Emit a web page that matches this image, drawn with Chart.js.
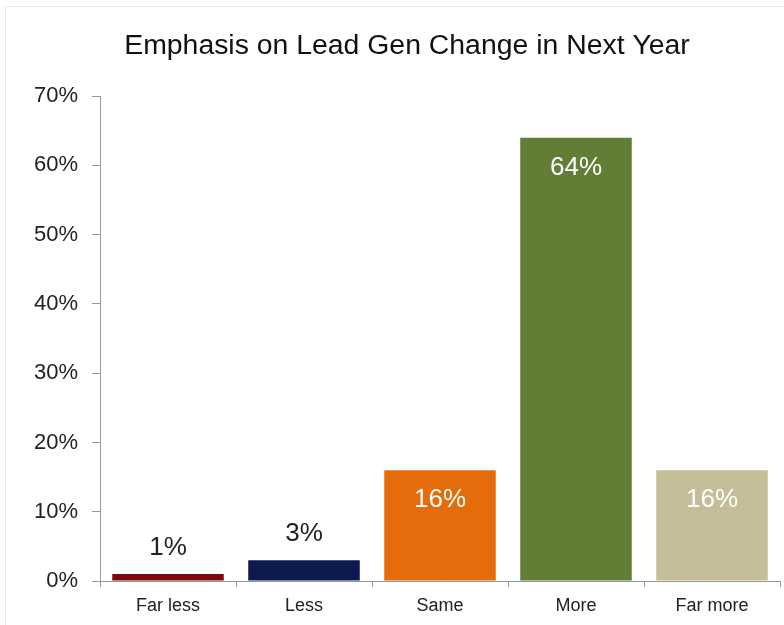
<!DOCTYPE html>
<html>
<head>
<meta charset="utf-8">
<script src="https://cdn.jsdelivr.net/npm/chart.js@4"></script>
<style>
  html, body { margin: 0; padding: 0; background: #fff; }
  #wrap { position: relative; width: 784px; height: 625px; }
  #frame { position: absolute; left: 5px; top: 6px; width: 800px; height: 700px; border: 1px solid #ece8dc; }
  canvas { position: absolute; left: 0; top: 0; }
</style>
</head>
<body>
<div id="wrap">
  <div id="frame"></div>
  <canvas id="leadGenChart" width="784" height="625"></canvas>
</div>
<script>
const categories = ['Far less', 'Less', 'Same', 'More', 'Far more'];
const values = [1, 3, 16, 64, 16];
const barColors = ['#7d0a0a', '#0c1a4f', '#e46c0a', '#617d36', '#c4bd97'];
const yTicks = [0, 10, 20, 30, 40, 50, 60, 70];

const fontFamily = '"Liberation Sans", Arial, sans-serif';

// labels on the bars: small ones above, big ones inside in white
const barLabels = {
    id: 'barLabels',
    afterDatasetsDraw(chart) {
        const c = chart.ctx;
        const meta = chart.getDatasetMeta(0);
        c.save();
        c.font = '26px ' + fontFamily;
        c.textAlign = 'center';
        c.textBaseline = 'middle';
        meta.data.forEach((bar, i) => {
            const v = values[i];
            if (v < 10) {
                c.fillStyle = '#222';
                c.fillText(v + '%', bar.x, bar.y - 26);
            } else {
                c.fillStyle = '#fff';
                c.fillText(v + '%', bar.x, bar.y + 30);
            }
        });
        c.restore();
    }
};

const ctx = document.getElementById('leadGenChart').getContext('2d');

new Chart(ctx, {
    type: 'bar',
    data: {
        labels: categories,
        datasets: [{
            data: values,
            backgroundColor: barColors,
            borderWidth: 0,
            barPercentage: 0.82,
            categoryPercentage: 1.0
        }]
    },
    options: {
        responsive: false,
        animation: false,
        layout: { padding: { left: 34, right: 4, top: 0, bottom: 0 } },
        plugins: {
            legend: { display: false },
            tooltip: { enabled: false },
            title: {
                display: true,
                text: 'Emphasis on Lead Gen Change in Next Year',
                color: '#111',
                font: { family: fontFamily, size: 28.4, weight: 'normal' },
                padding: { top: 29, bottom: 33 }
            }
        },
        scales: {
            x: {
                grid: { display: true, drawOnChartArea: false, tickLength: 6, color: '#999' },
                border: { color: '#999' },
                ticks: { color: '#222', padding: 8, font: { family: fontFamily, size: 18 } },
                afterFit(scale) { scale.height = 44; }
            },
            y: {
                min: 0,
                max: 70,
                afterBuildTicks(scale) { scale.ticks = yTicks.map(v => ({ value: v })); },
                grid: { display: true, drawOnChartArea: false, tickLength: 8, color: '#999' },
                border: { color: '#999' },
                ticks: {
                    color: '#222',
                    padding: 14,
                    font: { family: fontFamily, size: 22 },
                    callback: v => v + '%'
                },
                afterFit(scale) { scale.width = 66; }
            }
        }
    },
    plugins: [barLabels]
});
</script>
</body>
</html>
